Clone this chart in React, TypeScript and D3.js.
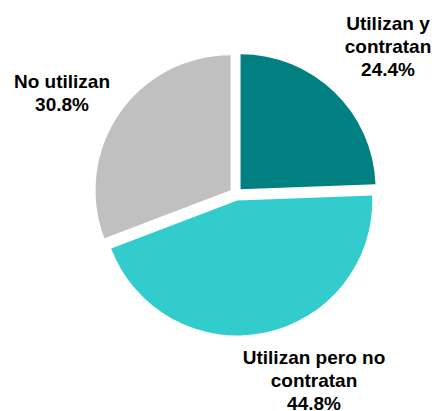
import React from "react";
import * as d3 from "d3";

const categories = ["Utilizan y contratan", "Utilizan pero no contratan", "No utilizan"];
const values = [24.4, 44.8, 30.8];
const labelLines = [
  ["Utilizan y", "contratan", "24.4%"],
  ["Utilizan pero no", "contratan", "44.8%"],
  ["No utilizan", "30.8%"],
];
const colors = ["#008080", "#33CCCC", "#C0C0C0"];

// layout
const W = 434;
const H = 411;
const cx = 236;
const cy = 194;
const R = 135;
const explode = 6.6;
const labelPos = [
  { x: 388, y: 30 },
  { x: 314, y: 364 },
  { x: 62, y: 88 },
];
const lineH = 23;

export default function App() {
  const pie = d3
    .pie<number>()
    .sort(null)
    .value((d) => d)
    .startAngle(0)
    .endAngle(2 * Math.PI);
  const arcs = pie(values);
  const arc = d3.arc<d3.PieArcDatum<number>>().innerRadius(0).outerRadius(R);

  return (
    <svg
      width={W}
      height={H}
      style={{ position: "absolute", left: 0, top: 0, background: "#fff" }}
      fontFamily="'Liberation Sans', Arial, sans-serif"
    >
      <rect width={W} height={H} fill="#fff" />
      <g transform={`translate(${cx},${cy})`}>
        {arcs.map((a, i) => {
          const mid = (a.startAngle + a.endAngle) / 2;
          const dx = Math.sin(mid) * explode;
          const dy = -Math.cos(mid) * explode;
          return (
            <path
              key={categories[i]}
              d={arc(a) || ""}
              fill={colors[i]}
              transform={`translate(${dx},${dy})`}
            />
          );
        })}
      </g>
      {labelLines.map((lines, i) => (
        <text
          key={i}
          textAnchor="middle"
          fontWeight="bold"
          fontSize={19}
          fill="#000"
        >
          {lines.map((t, j) => (
            <tspan key={j} x={labelPos[i].x} y={labelPos[i].y + j * lineH}>
              {t}
            </tspan>
          ))}
        </text>
      ))}
    </svg>
  );
}
